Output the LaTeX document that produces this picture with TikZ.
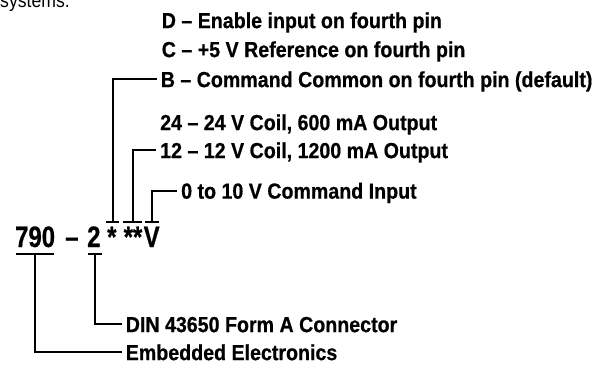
\documentclass[tikz,border=0pt]{standalone}
\usepackage{fontspec}
\setmainfont{Liberation Sans}
\newfontfamily\lblfont{Liberation Sans}[FakeStretch=0.9, BoldFeatures={FakeBold=0.6}]
\newfontfamily\codefont{Liberation Sans}[FakeStretch=0.81, BoldFeatures={FakeBold=0.6}]
\usetikzlibrary{positioning}

\begin{document}
\begin{tikzpicture}[
    x=1pt, y=-1pt,
    lbl/.style={anchor=west, inner xsep=4pt, inner ysep=0pt, text height=15.6pt, text depth=0pt, font=\lblfont\bfseries\fontsize{21.8}{24}\selectfont},
    part/.style={anchor=base west, inner sep=0pt, font=\codefont\bfseries\fontsize{29.5}{32}\selectfont},
    lead/.style={line width=2pt},
]
\useasboundingbox (0,0) rectangle (608,365);

\node[anchor=base west, inner sep=0pt, font=\lblfont\fontsize{19.6}{22}\selectfont] (prev) at (0,7) {systems.};

% option labels
\node[lbl] (optD) at (157.6,20.3) {D – Enable input on fourth pin};
\node[lbl] (optC) at (157.6,49.3) {C – +5 V Reference on fourth pin};
\node[lbl] (optB) at (156.6,79.3) {B – Command Common on fourth pin (default)};
\node[lbl] (opt24) at (156,122.3) {24 – 24 V Coil, 600 mA Output};
\node[lbl] (opt12) at (156,150.3) {12 – 12 V Coil, 1200 mA Output};
\node[lbl] (optV) at (177,190.8) {0 to 10 V Command Input};
\node[lbl] (optDIN) at (121.6,324.3) {DIN 43650 Form A Connector};
\node[lbl] (optEmb) at (121.6,352.3) {Embedded Electronics};

% model code
\node[part] (c790) at (15,247) {790};
\node[part] (cdash) at (65,247) {–};
\node[part] (c2) at (87,247) {2};
\node[part] (cstar) at (107,247) {*};
\node[part] (cstars) at (123.5,247) {**};
\node[part] (cV) at (143.5,247) {V};

% taps
\coordinate (tapB) at (112.5,222);
\coordinate (tap12) at (132.5,222);
\coordinate (tapV) at (152,222);
\coordinate (tap790) at (35,254);
\coordinate (tap2) at (95,254);

\draw[lead] ([xshift=-6.5pt]tapB) -- ([xshift=6.5pt]tapB);
\draw[lead] ([xshift=-9.5pt]tap12) -- ([xshift=9.5pt]tap12);
\draw[lead] ([xshift=-7pt]tapV) -- ([xshift=7pt]tapV);
\draw[lead] ([xshift=-19pt]tap790) -- ([xshift=19pt]tap790);
\draw[lead] ([xshift=-7pt]tap2) -- ([xshift=7pt]tap2);

% leaders
\draw[lead] (tapB) |- (optB.west);
\draw[lead] (tap12) |- (opt12.west);
\draw[lead] (tapV) |- (optV.west);
\draw[lead] (tap2) |- (optDIN.west);
\draw[lead] (tap790) |- (optEmb.west);

\end{tikzpicture}
\end{document}
